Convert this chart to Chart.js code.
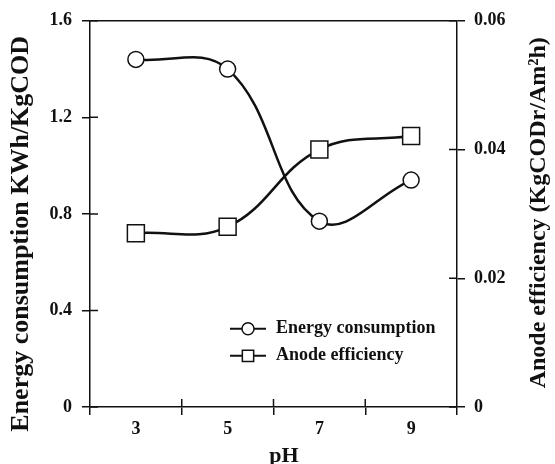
<!DOCTYPE html>
<html>
<head>
<meta charset="utf-8">
<script src="https://cdn.jsdelivr.net/npm/chart.js@4/dist/chart.umd.min.js"></script>
<style>
  body { margin: 0; background: #fff; }
  #wrap { width: 555px; height: 464px; }
</style>
</head>
<body>
<div id="wrap"><canvas id="phChart" width="555" height="464"></canvas></div>
<script>
// Data
const phLabels = ["3", "5", "7", "9"];
const energyValues = [1.44, 1.40, 0.77, 0.94];
const anodeValues = [0.0270, 0.0280, 0.0400, 0.0421];
const energyTicks = [0, 0.4, 0.8, 1.2, 1.6];
const anodeTicks = [0, 0.02, 0.04, 0.06];

const fontFamily = "'Liberation Serif', 'Times New Roman', serif";
const ink = "#111";

// ticks that cross the axis line, the frame, the legend and axis titles
const extrasPlugin = {
	id: "extras",
	afterDraw(chart) {
		const ctx = chart.ctx;
		const area = chart.chartArea;
		const x = chart.scales.x;
		const y = chart.scales.y;
		const y1 = chart.scales.y1;
		ctx.save();
		ctx.strokeStyle = ink;
		ctx.lineWidth = 1.5;

		// top frame line
		ctx.beginPath();
		ctx.moveTo(area.left, area.top);
		ctx.lineTo(area.right, area.top);
		ctx.stroke();

		// inner half of the ticks
		const inner = 8;
		ctx.beginPath();
		for (let i = 1; i < phLabels.length; i++) {
			let px = (x.getPixelForTick(i - 1) + x.getPixelForTick(i)) / 2;
			ctx.moveTo(px, area.bottom);
			ctx.lineTo(px, area.bottom - inner);
		}
		y.ticks.forEach(function (t) {
			let py = y.getPixelForValue(t.value);
			ctx.moveTo(area.left, py);
			ctx.lineTo(area.left + inner, py);
		});
		y1.ticks.forEach(function (t) {
			let py = y1.getPixelForValue(t.value);
			ctx.moveTo(area.right, py);
			ctx.lineTo(area.right - inner, py);
		});
		ctx.stroke();

		// legend inside the plot
		const lx = area.left + 140;
		const ly = area.top + 308;
		const rowGap = 27;
		ctx.font = "bold 18px " + fontFamily;
		ctx.textBaseline = "middle";
		ctx.textAlign = "left";
		chart.data.datasets.forEach(function (ds, i) {
			let cy = ly + i * rowGap;
			ctx.lineWidth = 2;
			ctx.strokeStyle = ink;
			ctx.beginPath();
			ctx.moveTo(lx, cy);
			ctx.lineTo(lx + 36, cy);
			ctx.stroke();
			ctx.fillStyle = "#fff";
			ctx.lineWidth = 1.5;
			Chart.helpers.drawPoint(ctx, {
				pointStyle: ds.pointStyle,
				radius: ds.pointStyle === "rect" ? 8 : 6,
				rotation: 0,
				borderWidth: 1.5
			}, lx + 18, cy);
			ctx.fillStyle = ink;
			ctx.fillText(ds.label, lx + 46, cy);
		});

		// x title
		ctx.font = "bold 22px " + fontFamily;
		ctx.textAlign = "center";
		ctx.textBaseline = "alphabetic";
		ctx.fillText("pH", area.left + 194, 462);

		// y axis titles, both reading bottom to top
		ctx.textBaseline = "middle";
		ctx.font = "bold 26px " + fontFamily;
		ctx.save();
		ctx.translate(21, area.top + 213);
		ctx.rotate(-Math.PI / 2);
		ctx.fillText("Energy consumption KWh/KgCOD", 0, 0);
		ctx.restore();
		ctx.font = "bold 24px " + fontFamily;
		ctx.save();
		ctx.translate(539, area.top + 192);
		ctx.rotate(-Math.PI / 2);
		ctx.fillText("Anode efficiency (KgCODr/Am\u00b2h)", 0, 0);
		ctx.restore();

		ctx.restore();
	}
};

new Chart(document.getElementById("phChart"), {
	type: "line",
	data: {
		labels: phLabels,
		datasets: [
			{
				label: "Energy consumption",
				data: energyValues,
				yAxisID: "y",
				borderColor: ink,
				borderWidth: 2.5,
				tension: 0.4,
				pointStyle: "circle",
				pointRadius: 8,
				pointBackgroundColor: "#fff",
				pointBorderColor: ink,
				pointBorderWidth: 1.5
			},
			{
				label: "Anode efficiency",
				data: anodeValues,
				yAxisID: "y1",
				borderColor: ink,
				borderWidth: 2.5,
				tension: 0.4,
				pointStyle: "rect",
				pointRadius: 12,
				pointBackgroundColor: "#fff",
				pointBorderColor: ink,
				pointBorderWidth: 1.5
			}
		]
	},
	options: {
		responsive: false,
		animation: false,
		layout: { padding: { top: 19, left: 0, right: 0, bottom: 0 } },
		plugins: {
			legend: { display: false },
			tooltip: { enabled: false }
		},
		scales: {
			x: {
				type: "category",
				offset: true,
				grid: {
					offset: true,
					drawOnChartArea: false,
					tickLength: 8,
					color: ink,
					lineWidth: 1.5
				},
				border: { color: ink, width: 1.5 },
				ticks: {
					color: ink,
					padding: 4,
					font: { family: fontFamily, size: 18, weight: "bold" }
				},
				afterFit(scale) {
					scale.height = 57;
				}
			},
			y: {
				position: "left",
				min: 0,
				max: 1.6,
				grid: {
					drawOnChartArea: false,
					tickLength: 8,
					color: ink,
					lineWidth: 1.5
				},
				border: { color: ink, width: 1.5 },
				ticks: {
					color: ink,
					padding: 10,
					font: { family: fontFamily, size: 18, weight: "bold" },
					callback: function (v) {
						return v === 0 ? "0" : Number(v).toFixed(1);
					}
				},
				afterBuildTicks(scale) {
					scale.ticks = energyTicks.map(function (v) { return { value: v }; });
				},
				afterFit(scale) {
					scale.width = 90;
				}
			},
			y1: {
				position: "right",
				min: 0,
				max: 0.06,
				grid: {
					drawOnChartArea: false,
					tickLength: 8,
					color: ink,
					lineWidth: 1.5
				},
				border: { color: ink, width: 1.5 },
				ticks: {
					color: ink,
					padding: 9,
					font: { family: fontFamily, size: 18, weight: "bold" },
					callback: function (v) {
						return v === 0 ? "0" : Number(v).toFixed(2);
					}
				},
				afterBuildTicks(scale) {
					scale.ticks = anodeTicks.map(function (v) { return { value: v }; });
				},
				afterFit(scale) {
					scale.width = 98;
				}
			}
		}
	},
	plugins: [extrasPlugin]
});
</script>
</body>
</html>
